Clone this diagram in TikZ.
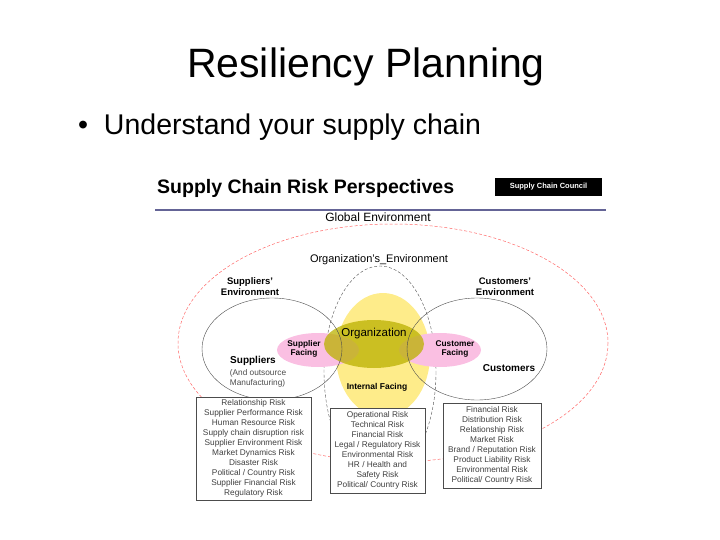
\documentclass[tikz,border=0pt]{standalone}
\usepackage{fontspec}
\setmainfont{Liberation Sans}
\begin{document}
\begin{tikzpicture}[x=1pt,y=-1pt]
\tikzset{every node/.append style={inner sep=0pt},
  risk/.style={draw=black!70,fill=white,align=center,font=\fontsize{8.3}{10}\selectfont,text=black!75,inner sep=2pt},
  envlabel/.style={font=\fontsize{9.5}{11}\selectfont\bfseries,align=center},
  reddash/.style={draw=red!60,densely dashed,line width=0.5pt},
  greydash/.style={draw=black!70,densely dashed,line width=0.4pt}}
\useasboundingbox (0,0) rectangle (720,540);
\node (title) at (366,67) {\fontsize{41}{46}\selectfont Resiliency Planning};
\node[anchor=west] (bullet) at (78,127) {\fontsize{28.5}{32}\selectfont \textbullet\ \ Understand your supply chain};
\node[anchor=west] (head) at (157,188) {\fontsize{19.5}{22}\selectfont\bfseries Supply Chain Risk Perspectives};
\node[fill=black,text=white,minimum width=107pt,minimum height=18pt,font=\fontsize{7.5}{9}\selectfont\bfseries] (council) at (548.5,187) {Supply Chain Council};
\draw[color={rgb,255:red,100;green,100;blue,150},line width=1.2pt] (155,210) -- (606,210);
\node (global) at (378,217) {\fontsize{12}{14}\selectfont Global Environment};
\draw[reddash] (393,343) ellipse (215 and 119);
\node (orgenv) at (379,260) {\fontsize{11}{13}\selectfont Organization's\_Environment};
\draw[greydash] (380,372) ellipse (56 and 106);
\fill[yellow!75!orange!45] (383,355) ellipse (47 and 62);
\fill[magenta!25] (318,350) ellipse (41 and 17);
\fill[magenta!25] (440,350) ellipse (41 and 17);
\fill[olive!60!yellow,opacity=0.75] (374,344) ellipse (50 and 24);
\draw[black!70,line width=0.4pt] (272,349) ellipse (70 and 51);
\draw[black!70,line width=0.4pt] (477,349) ellipse (70 and 51);
\node[envlabel] (supenv) at (250,287) {Suppliers'\\Environment};
\node[envlabel] (cusenv) at (505,287) {Customers'\\Environment};
\node[font=\fontsize{10}{11}\selectfont\bfseries] (sup) at (253,361) {Suppliers};
\node[font=\fontsize{8.3}{10}\selectfont,align=left,text=black!70] (supnote) at (258,378) {(And outsource\\Manufacturing)};
\node[font=\fontsize{10}{11}\selectfont\bfseries] (cus) at (509,368) {Customers};
\node[font=\fontsize{11.5}{13}\selectfont] (org) at (374,334) {Organization};
\node[font=\fontsize{8.3}{9.5}\selectfont\bfseries,align=center] (supface) at (304,349) {Supplier\\Facing};
\node[font=\fontsize{8.3}{9.5}\selectfont\bfseries,align=center] (cusface) at (455,349) {Customer\\Facing};
\node[font=\fontsize{8.5}{10}\selectfont\bfseries] (intface) at (377,387) {Internal Facing};
\node[risk,minimum width=115pt,minimum height=103pt] (suprisk) at (253.5,448.5) {Relationship Risk\\Supplier Performance Risk\\Human Resource Risk\\Supply chain disruption risk\\Supplier Environment Risk\\Market Dynamics Risk\\Disaster Risk\\Political / Country Risk\\Supplier Financial Risk\\Regulatory Risk};
\node[risk,minimum width=95pt,minimum height=85pt] (orgrisk) at (377.5,450.5) {Operational Risk\\Technical Risk\\Financial Risk\\Legal / Regulatory Risk\\Environmental Risk\\HR / Health and\\Safety Risk\\Political/ Country Risk};
\node[risk,minimum width=98pt,minimum height=85pt] (cusrisk) at (492,445.5) {Financial Risk\\Distribution Risk\\Relationship Risk\\Market Risk\\Brand / Reputation Risk\\Product Liability Risk\\Environmental Risk\\Political/ Country Risk};
\end{tikzpicture}
\end{document}
